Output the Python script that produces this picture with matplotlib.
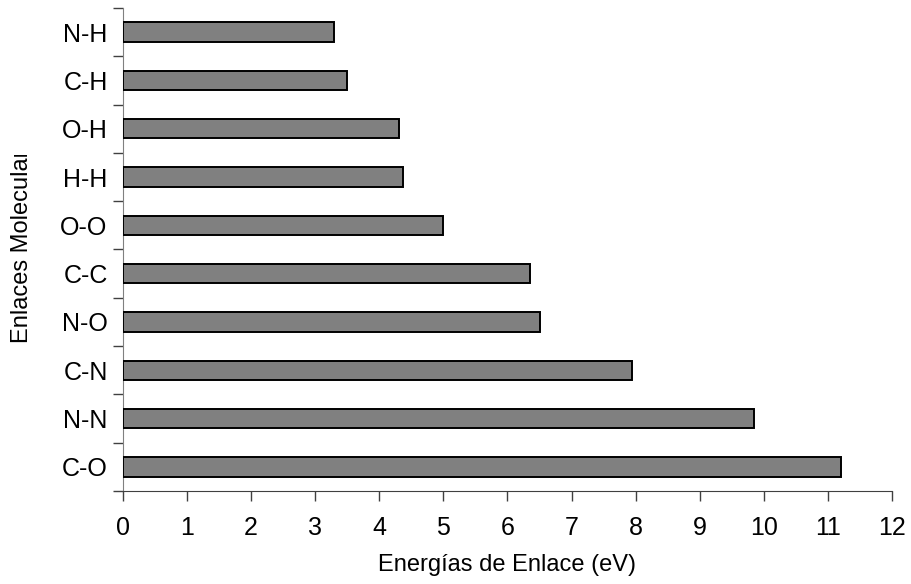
import matplotlib
matplotlib.use("Agg")
import matplotlib.pyplot as plt
from matplotlib.transforms import Bbox
import numpy as np

bonds = ["C-O", "N-N", "C-N", "N-O", "C-C", "O-O", "H-H", "O-H", "C-H", "N-H"]
energies = [11.2, 9.85, 7.95, 6.5, 6.35, 5.0, 4.37, 4.31, 3.5, 3.3]
x_ticks = list(range(0, 13))

plt.rcParams['font.family'] = ['Liberation Sans', 'DejaVu Sans']

W, H = 911, 584
fig = plt.figure(figsize=(W / 100, H / 100), dpi=100)
ax = fig.add_axes([123 / W, 1 - 491 / H, (892 - 123) / W, (491 - 8) / H])

y = np.arange(len(bonds))
ax.barh(y, energies, height=0.4, color="#808080", edgecolor="black", linewidth=1.4, zorder=3)

ax.set_xlim(0, 12)
ax.set_ylim(-0.5, len(bonds) - 0.5)
ax.set_xticks(x_ticks)
ax.set_xticklabels([str(t) for t in x_ticks], fontsize=18)

ax.set_yticks(y)
ax.set_yticklabels(bonds, fontsize=18)
ax.tick_params(axis="y", which="major", length=0, pad=11)
ax.set_yticks(np.arange(-0.5, len(bonds), 1.0), minor=True)
ax.tick_params(axis="y", which="minor", length=7, width=1, color="#404040", direction="out")
ax.tick_params(axis="x", which="major", length=7, width=1, color="#404040", direction="out", pad=11)

for s in ["top", "right"]:
    ax.spines[s].set_visible(False)
ax.spines["left"].set_color("#808080")
ax.spines["bottom"].set_color("#404040")

ax.set_xlabel("Energías de Enlace (eV)", fontsize=17, labelpad=10)

ylab = fig.text(22 / W, 1 - 343 / H, "Enlaces Moleculares", rotation=90,
                ha="center", va="bottom", fontsize=17)
ylab.set_clip_box(Bbox.from_extents(0, 0, 60, H - 155))
ylab.set_clip_on(True)

fig.savefig("out.png", dpi=100)
